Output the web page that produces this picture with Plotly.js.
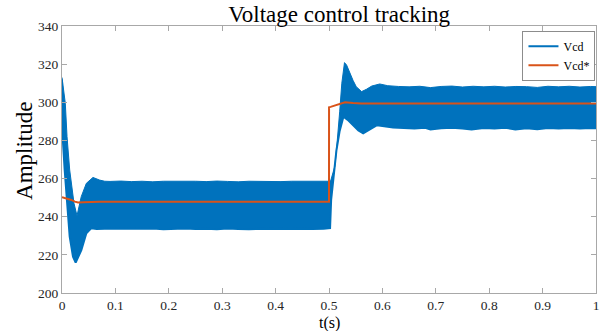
<!DOCTYPE html>
<html>
<head>
<meta charset="utf-8">
<script src="https://cdn.plot.ly/plotly-3.0.1.min.js"></script>
<style>html,body{margin:0;padding:0;background:#fff;}#chart{width:611px;height:331px;}</style>
</head>
<body>
<div id="chart"></div>
<script>
// Vcd upper envelope (time, value)
const tVcdUpper = [0, 0.002, 0.004, 0.0062, 0.0094, 0.0144, 0.0225, 0.0281, 0.036, 0.0456, 0.058, 0.0705, 0.08,
  0.09, 0.11, 0.13, 0.15, 0.17, 0.19, 0.21, 0.23, 0.25, 0.27, 0.29, 0.31, 0.33, 0.35, 0.37, 0.39, 0.41, 0.43, 0.45, 0.47, 0.49,
  0.5, 0.503, 0.507, 0.511, 0.514, 0.517, 0.52, 0.524, 0.527, 0.529, 0.533, 0.539, 0.545, 0.551, 0.561, 0.57, 0.58, 0.595, 0.61,
  0.63, 0.65, 0.67, 0.69, 0.71, 0.73, 0.75, 0.77, 0.79, 0.81, 0.83, 0.85, 0.87, 0.89, 0.91, 0.93, 0.95, 0.97, 0.99, 1.0];
const vVcdUpper = [313, 308, 304, 299.5, 282, 264.5, 247, 240.5, 250.5, 257.5, 260.6, 259.2, 258.6,
  258.5, 258.7, 258.4, 258.6, 258.3, 258.6, 258.7, 258.5, 258.6, 258.4, 258.7, 258.5, 258.3, 258.6, 258.5, 258.7, 258.4, 258.6, 258.5, 258.7, 258.5,
  258.6, 258.7, 262, 266.5, 275, 284, 295, 310, 317.5, 320.8, 319.5, 315.2, 311.5, 308.2, 305.6, 306.8, 308.5, 309.6, 308.7,
  308.3, 308.1, 308.4, 307.7, 308.3, 308.5, 308.0, 308.4, 308.1, 308.4, 308.0, 308.3, 308.2, 307.8, 308.4, 308.1, 308.4, 308.0, 308.3, 308.2];
// Vcd lower envelope (time, value)
const tVcdLower = [0, 0.0006, 0.0012, 0.005, 0.0094, 0.0144, 0.0206, 0.0256, 0.0362, 0.0456, 0.055, 0.065, 0.08,
  0.09, 0.11, 0.13, 0.15, 0.17, 0.19, 0.21, 0.23, 0.25, 0.27, 0.29, 0.31, 0.33, 0.35, 0.37, 0.39, 0.41, 0.43, 0.45, 0.47, 0.49,
  0.502, 0.504, 0.509, 0.514, 0.52, 0.527, 0.535, 0.545, 0.555, 0.564, 0.575, 0.59, 0.6, 0.62,
  0.64, 0.66, 0.68, 0.69, 0.71, 0.73, 0.75, 0.767, 0.79, 0.81, 0.83, 0.849, 0.87, 0.89, 0.91, 0.93, 0.95, 0.97, 0.99, 1.0];
const vVcdLower = [312, 299.5, 282, 264.5, 247, 229.5, 219, 215.9, 222.5, 231.3, 234, 233.6, 233.7,
  233.7, 233.5, 233.8, 233.6, 233.8, 233.4, 233.7, 233.8, 233.5, 233.7, 233.4, 233.8, 233.6, 233.4, 233.7, 233.6, 233.8, 233.5, 233.7, 233.5, 233.7,
  234, 248.8, 262, 275, 285, 292.4, 290.8, 288, 285.2, 283.7, 285.5, 288, 287.6, 286.8,
  286.5, 286.3, 286.6, 285.7, 286.4, 286.6, 286.3, 285.8, 286.5, 286.3, 286.6, 285.8, 286.4, 285.9, 286.5, 286.3, 286.5, 286.2, 286.5, 286.4];
// Vcd* reference
const tVcdRef = [0, 0.008, 0.0175, 0.024, 0.03, 0.04, 0.07, 0.5, 0.5001, 0.503, 0.515, 0.53, 0.545, 0.56, 1.0];
const vVcdRef = [250.2, 249.7, 248.8, 247.9, 247.5, 247.6, 247.8, 247.8, 297.4, 297.6, 298.8, 300, 299.6, 299.4, 299.4];

const xTicks = [0, 0.1, 0.2, 0.3, 0.4, 0.5, 0.6, 0.7, 0.8, 0.9, 1];
const xTickLabels = ['0', '0.1', '0.2', '0.3', '0.4', '0.5', '0.6', '0.7', '0.8', '0.9', '1'];
const yTicks = [200, 220, 240, 260, 280, 300, 320, 340];

const BLUE = '#0072BD', ORANGE = '#D95319';
const SERIF = '"Liberation Serif", "DejaVu Serif", serif';

const traces = [
  {x: tVcdLower, y: vVcdLower, type: 'scatter', mode: 'lines', name: 'Vcd',
   line: {color: BLUE, width: 2}, showlegend: true},
  {x: tVcdUpper, y: vVcdUpper, type: 'scatter', mode: 'lines', name: 'Vcd',
   line: {color: BLUE, width: 1}, fill: 'tonexty', fillcolor: BLUE, showlegend: false},
  {x: tVcdRef, y: vVcdRef, type: 'scatter', mode: 'lines', name: 'Vcd*',
   line: {color: ORANGE, width: 2}}
];

const axisCommon = {
  showline: true, linecolor: '#a8a8a8', linewidth: 1, mirror: 'ticks',
  ticks: 'inside', ticklen: 5, tickcolor: '#a8a8a8', showgrid: false, zeroline: false,
  tickfont: {family: SERIF, size: 13.5, color: '#262626'}
};

const layout = {
  width: 611, height: 331,
  margin: {l: 62, r: 15, t: 26, b: 38},
  paper_bgcolor: '#fff', plot_bgcolor: '#fff',
  title: {text: 'Voltage control tracking', font: {family: SERIF, size: 23, color: '#000'},
          x: 0.555, xanchor: 'center', y: 0.958, yanchor: 'middle'},
  xaxis: Object.assign({}, axisCommon, {range: [0, 1], tickvals: xTicks, ticktext: xTickLabels}),
  yaxis: Object.assign({}, axisCommon, {range: [200, 340], tickvals: yTicks}),
  annotations: [
    {text: 't(s)', xref: 'paper', yref: 'paper', x: 0.5, y: -0.114, xanchor: 'center', yanchor: 'middle',
     showarrow: false, font: {family: SERIF, size: 16, color: '#000'}},
    {text: 'Amplitude', xref: 'paper', yref: 'paper', x: -0.0693, y: 0.532, xanchor: 'center', yanchor: 'middle',
     textangle: -90, showarrow: false, font: {family: SERIF, size: 23, color: '#000'}}
  ],
  legend: {x: 0.999, xanchor: 'right', y: 0.982, yanchor: 'top', traceorder: 'normal',
    bgcolor: '#fff', bordercolor: '#8c8c8c', borderwidth: 1,
    font: {family: SERIF, size: 12, color: '#000'}, itemwidth: 30, tracegroupgap: 0},
  showlegend: true
};

Plotly.newPlot('chart', traces, layout, {staticPlot: true, displayModeBar: false});
</script>
</body>
</html>
